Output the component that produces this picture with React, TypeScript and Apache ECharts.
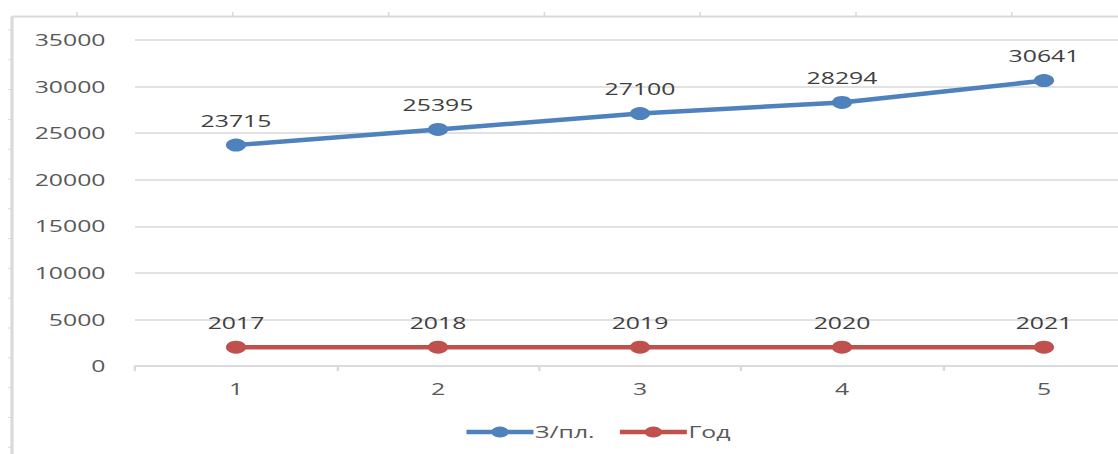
import React, { useEffect, useRef } from "react";
import * as echarts from "echarts";

const categories = ["1", "2", "3", "4", "5"];
const salary = [23715, 25395, 27100, 28294, 30641];
const years = [2017, 2018, 2019, 2020, 2021];
const yTicks = { min: 0, max: 35000, interval: 5000 };
const seriesNames = ["З/пл.", "Год"];

const SX = 1.55; // horizontal stretch of the reference picture
const INNER_W = 760;
const H = 454;

export default function App() {
  const ref = useRef<HTMLDivElement>(null);
  useEffect(() => {
    if (!ref.current) return;
    const chart = echarts.init(ref.current, undefined, { renderer: "svg" });
    const font = "'Open Sans', 'Liberation Sans', sans-serif";
    const frameColor = "#d9d9d9";
    const graphics: any[] = [];
    const fx = (x: number) => x / SX;
    graphics.push({
      type: "line",
      shape: { x1: fx(12), y1: 16.5, x2: INNER_W, y2: 16.5 },
      style: { stroke: frameColor, lineWidth: 2 },
      silent: true,
    });
    graphics.push({
      type: "line",
      shape: { x1: fx(12), y1: 16.5, x2: fx(12), y2: H },
      style: { stroke: frameColor, lineWidth: 2 },
      silent: true,
    });
    for (let k = 0; k < 7; k++) {
      const x = fx(77 + 155.8 * k);
      graphics.push({
        type: "line",
        shape: { x1: x, y1: 12, x2: x, y2: 16.5 },
        style: { stroke: frameColor, lineWidth: 1 },
        silent: true,
      });
    }
    for (let k = 0; k < 15; k++) {
      const y = 30 + 29.8 * k;
      graphics.push({
        type: "line",
        shape: { x1: fx(8), y1: y, x2: fx(12), y2: y },
        style: { stroke: frameColor, lineWidth: 1 },
        silent: true,
      });
    }

    const labelStyle = {
      show: true,
      position: "top",
      distance: 10,
      color: "#404040",
      fontSize: 16,
      fontFamily: font,
    };

    chart.setOption({
      animation: false,
      backgroundColor: "#ffffff",
      textStyle: { fontFamily: font },
      grid: {
        left: fx(135),
        right: INNER_W - fx(1145),
        top: 40,
        bottom: H - 366,
        containLabel: false,
        outerBoundsMode: "none",
      },
      legend: {
        left: fx(463),
        top: 424,
        padding: 0,
        itemWidth: fx(67),
        itemHeight: 14,
        itemGap: 14,
        lineStyle: { width: 4.5 },
        textStyle: {
          color: "#595959",
          fontSize: 16,
          fontFamily: font,
          padding: [0, 0, 0, -4],
        },
        data: seriesNames,
      },
      xAxis: {
        type: "category",
        data: categories,
        boundaryGap: true,
        axisLine: { show: true, lineStyle: { color: frameColor, width: 1.5 } },
        axisTick: { show: true, length: 5, alignWithLabel: false, lineStyle: { color: frameColor, width: 1.5 } },
        axisLabel: { color: "#595959", fontSize: 16, fontFamily: font, margin: 15 },
        splitLine: { show: false },
      },
      yAxis: {
        type: "value",
        min: yTicks.min,
        max: yTicks.max,
        interval: yTicks.interval,
        axisLine: { show: false },
        axisTick: { show: false },
        axisLabel: {
          color: "#595959",
          fontSize: 16,
          fontFamily: font,
          margin: 19,
          formatter: (v: number) => String(v),
        },
        splitLine: { show: true, lineStyle: { color: frameColor, width: 1.5 } },
      },
      graphic: graphics,
      series: [
        {
          name: seriesNames[0],
          type: "line",
          data: salary,
          symbol: "circle",
          symbolSize: 13,
          color: "#4f81bd",
          lineStyle: { color: "#4f81bd", width: 4.5 },
          itemStyle: { color: "#4f81bd" },
          label: labelStyle,
        },
        {
          name: seriesNames[1],
          type: "line",
          data: years,
          symbol: "circle",
          symbolSize: 13,
          color: "#c0504d",
          lineStyle: { color: "#c0504d", width: 4.5 },
          itemStyle: { color: "#c0504d" },
          label: labelStyle,
        },
      ],
    });
    return () => chart.dispose();
  }, []);

  return (
    <div
      style={{
        position: "absolute",
        left: 0,
        top: 0,
        width: 1118,
        height: H,
        overflow: "hidden",
        background: "#ffffff",
      }}
    >
      <div
        ref={ref}
        style={{
          width: INNER_W,
          height: H,
          transform: `scaleX(${SX})`,
          transformOrigin: "0 0",
        }}
      />
    </div>
  );
}
